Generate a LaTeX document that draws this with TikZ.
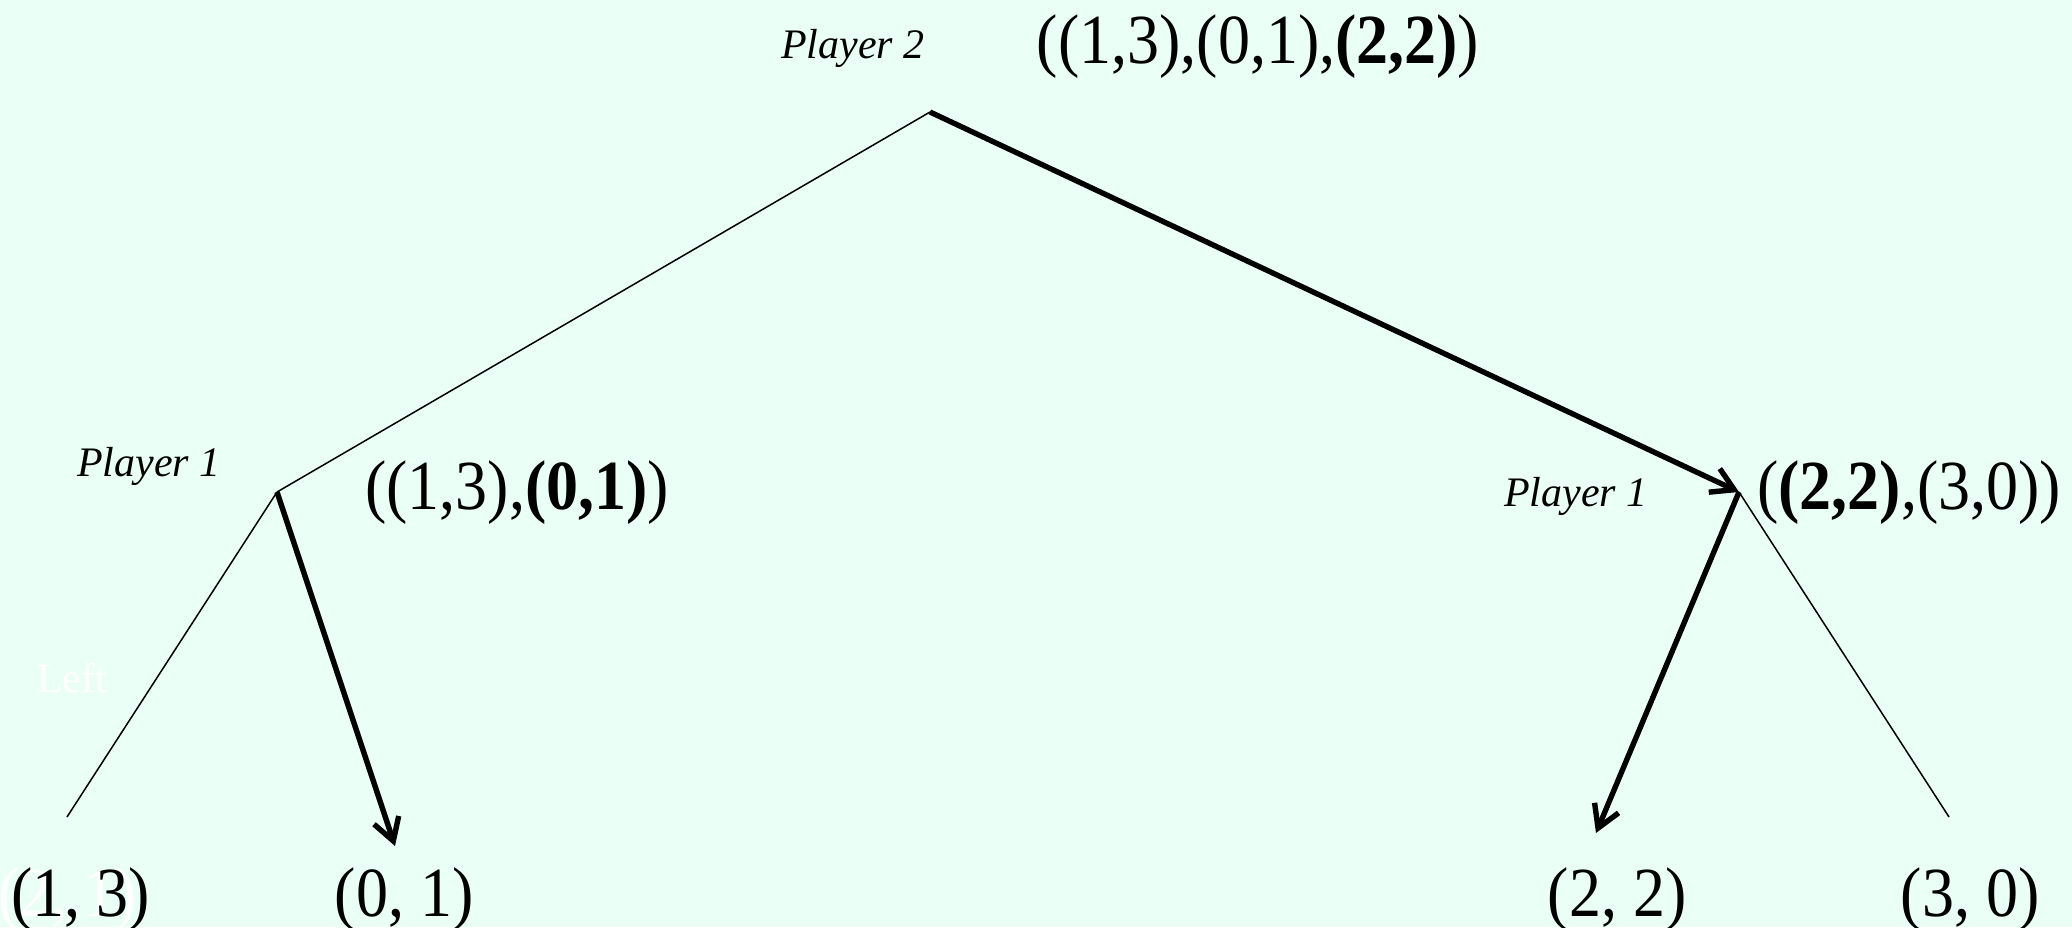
\documentclass[tikz,border=0pt]{standalone}
\usepackage{fontspec}
\setmainfont{Liberation Serif}
\usetikzlibrary{arrows.meta}
\definecolor{mint}{RGB}{234,255,246}
\newcommand{\tallpay}[1]{\scalebox{1}[1.1]{#1}}

\begin{document}
\begin{tikzpicture}[x=0.5pt, y=-0.5pt,
  every node/.style={inner sep=0pt, anchor=base},
  player/.style={font=\fontsize{21}{24}\selectfont\itshape},
  payoff/.style={font=\fontsize{32}{36}\selectfont},
  branch/.style={line width=0.75pt},
  best/.style={line width=2.7pt, -{Straight Barb[length=11pt,width=13pt]}}]

\fill[mint] (0,0) rectangle (2072,927);
\useasboundingbox (0,0) rectangle (2072,927);

\coordinate (top) at (930,112);
\coordinate (p1l) at (277,492);
\coordinate (p1r) at (1739,492);
\coordinate (endll) at (67,817);
\coordinate (endlr) at (395,846);
\coordinate (endrl) at (1596,833);
\coordinate (endrr) at (1949,817);

\node[player] (p2name) at (853,58) {Player 2};
\node[payoff] (toppay) at (1258,63) {\tallpay{((1,3),(0,1),\textbf{(2,2)})}};
\node[player] (p1lname) at (149,476) {Player 1};
\node[payoff] (leftpay) at (517,509) {\tallpay{((1,3),\textbf{(0,1)})}};
\node[player] (p1rname) at (1576,506) {Player 1};
\node[payoff] (rightpay) at (1909,509) {\tallpay{(\textbf{(2,2)},(3,0))}};

\node[player, font=\fontsize{21}{24}\selectfont, text=white] (leftword) at (72,692) {Left};
\node[payoff, text=white] (hidden) at (68,916) {\tallpay{(2, 1)}};
\node[payoff] (leaf1) at (81,916) {\tallpay{(1, 3)}};
\node[payoff] (leaf2) at (404,916) {\tallpay{(0, 1)}};
\node[payoff] (leaf3) at (1617,916) {\tallpay{(2, 2)}};
\node[payoff] (leaf4) at (1970,916) {\tallpay{(3, 0)}};

\draw[branch] (top) -- (p1l);
\draw[best] (top) -- (p1r);
\draw[branch] (p1l) -- (endll);
\draw[best] (p1l) -- (endlr);
\draw[best] (p1r) -- (endrl);
\draw[branch] (p1r) -- (endrr);

\end{tikzpicture}
\end{document}
